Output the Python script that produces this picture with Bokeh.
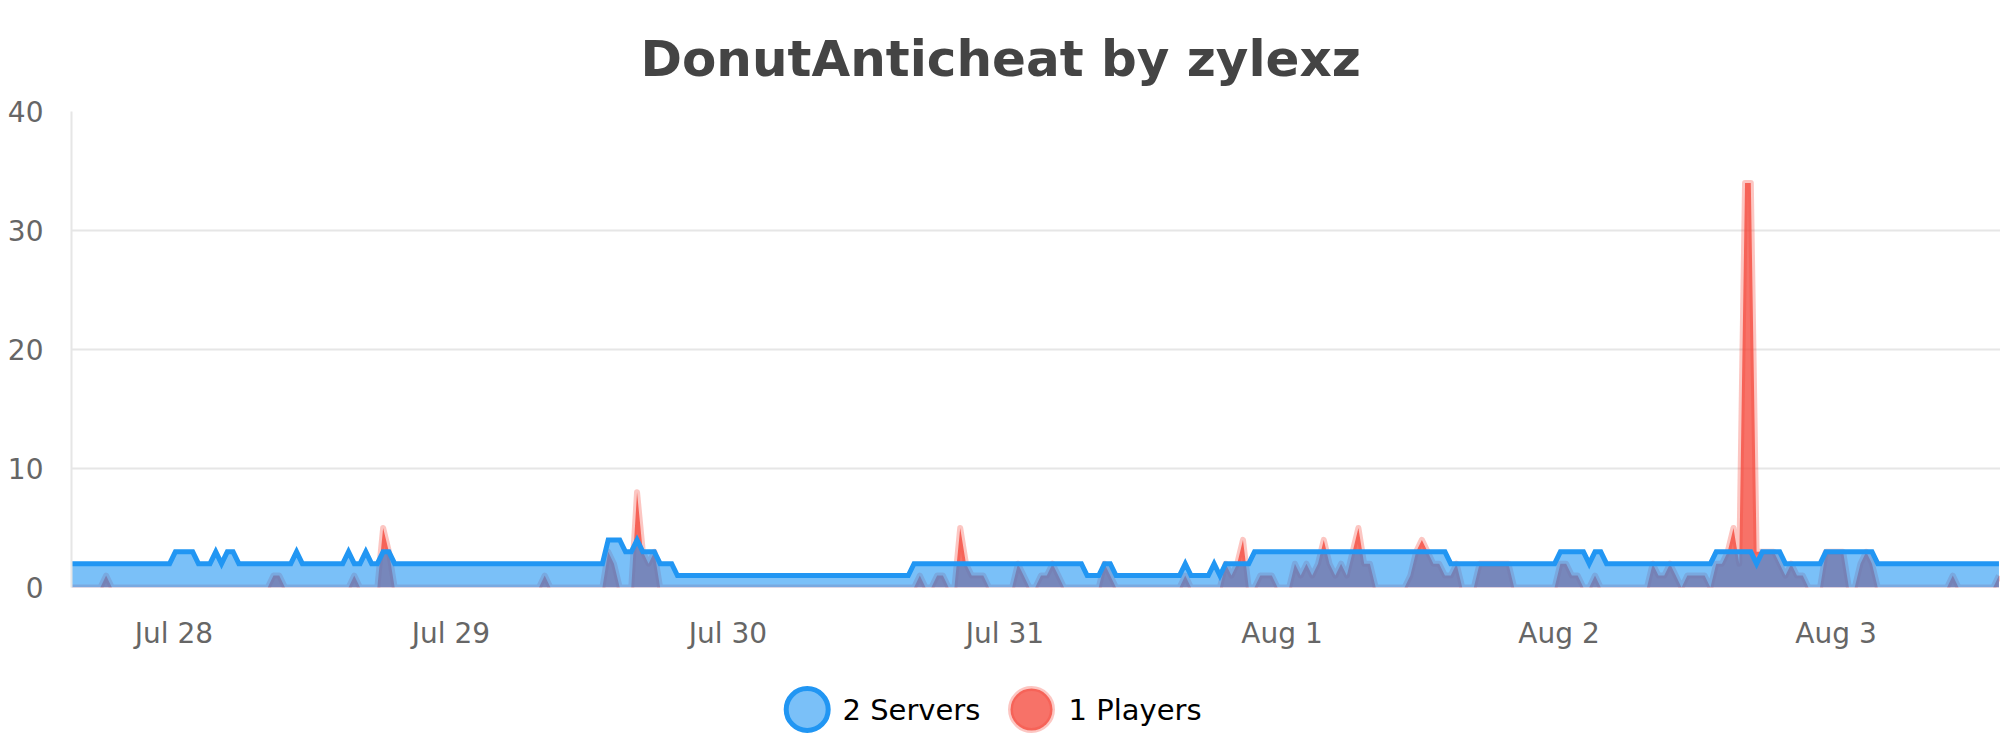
import pandas as pd
from bokeh.plotting import figure
from bokeh.models import ColumnDataSource, DaysTicker, DatetimeTickFormatter, Range1d, FixedTicker
from bokeh.layouts import column
from bokeh.embed import file_html
from bokeh.resources import INLINE
from bokeh.core.properties import value

title_text = "DonutAnticheat by zylexz"
start_time = "2025-07-27 15:07"
step = "30min"

servers = [
    2,2,2,2,2,2,2,2,2,2, 2,2,2,2,2,2,2,2,3,3,
    3,3,2,2,2,3,2,3,3,2, 2,2,2,2,2,2,2,2,2,3,
    2,2,2,2,2,2,2,2,3,2, 2,3,2,2,3,3,2,2,2,2,
    2,2,2,2,2,2,2,2,2,2, 2,2,2,2,2,2,2,2,2,2,
    2,2,2,2,2,2,2,2,2,2, 2,2,2,4,4,4,3,3,4,3,
    3,3,2,2,2,1,1,1,1,1, 1,1,1,1,1,1,1,1,1,1,
    1,1,1,1,1,1,1,1,1,1, 1,1,1,1,1,1,1,1,1,1,
    1,1,1,1,1,1,2,2,2,2, 2,2,2,2,2,2,2,2,2,2,
    2,2,2,2,2,2,2,2,2,2, 2,2,2,2,2,2,1,1,1,2,
    2,1,1,1,1,1,1,1,1,1, 1,1,1,2,1,1,1,1,2,1,
    2,2,2,2,2,3,3,3,3,3, 3,3,3,3,3,3,3,3,3,3,
    3,3,3,3,3,3,3,3,3,3, 3,3,3,3,3,3,3,3,3,2,
    2,2,2,2,2,2,2,2,2,2, 2,2,2,2,2,2,2,2,3,3,
    3,3,3,2,3,3,2,2,2,2, 2,2,2,2,2,2,2,2,2,2,
    2,2,2,2,2,3,3,3,3,3, 3,3,2,3,3,3,3,2,2,2,
    2,2,2,2,3,3,3,3,3,3, 3,3,3,2,2,2,2,2,2,2,
    2,2,2,2,2,2,2,2,2,2, 2,2,2,2,2,
]

players = [
    0,0,0,0,0,0,1,0,0,0, 0,0,0,0,0,0,0,0,0,0,
    0,0,0,0,0,0,0,0,0,0, 0,0,0,0,0,1,1,0,0,0,
    0,0,0,0,0,0,0,0,0,1, 0,0,0,0,5,3,0,0,0,0,
    0,0,0,0,0,0,0,0,0,0, 0,0,0,0,0,0,0,0,0,0,
    0,0,1,0,0,0,0,0,0,0, 0,0,0,3,2,0,0,0,8,3,
    2,3,0,0,0,0,0,0,0,0, 0,0,0,0,0,0,0,0,0,0,
    0,0,0,0,0,0,0,0,0,0, 0,0,0,0,0,0,0,0,0,0,
    0,0,0,0,0,0,0,1,0,0, 1,1,0,0,5,2,1,1,1,0,
    0,0,0,0,2,1,0,0,1,1, 2,1,0,0,0,0,0,0,0,2,
    1,0,0,0,0,0,0,0,0,0, 0,0,0,1,0,0,0,0,0,0,
    2,1,2,4,0,0,1,1,1,0, 0,0,2,1,2,1,2,4,2,1,
    2,1,3,5,2,2,0,0,0,0, 0,0,1,3,4,3,2,2,1,1,
    2,0,0,0,2,2,2,2,2,2, 0,0,0,0,0,0,0,0,2,2,
    1,1,0,0,1,0,0,0,0,0, 0,0,0,0,2,1,1,2,1,0,
    1,1,1,1,0,2,2,3,5,2, 34,34,3,3,3,3,2,1,2,1,
    1,0,0,0,3,3,3,3,0,0, 2,3,2,0,0,0,0,0,0,0,
    0,0,0,0,0,0,1,0,0,0, 0,0,0,0,1,
]

y_ticks = [0, 10, 20, 30, 40]
legend_labels = ["2 Servers", "1 Players"]

n = min(len(servers), len(players))
times = pd.date_range(start_time, periods=n, freq=step)
src = ColumnDataSource(dict(t=times, servers=servers[:n], players=players[:n]))

FRAME_LEFT = 71
PX_PER_DAY = 277
t0 = times[0]
x_end = t0 + pd.Timedelta(days=(2000 - FRAME_LEFT) / PX_PER_DAY)

FONT = "DejaVu Sans"
GRID = "#e6e6e6"
LABEL = "#666666"
BLUE = "#2196F3"
RED = "#F44336"

p = figure(width=2000, height=662, x_axis_type="datetime",
           x_range=Range1d(t0, x_end), y_range=Range1d(0, 40),
           output_backend="svg", toolbar_location=None,
           min_border_left=FRAME_LEFT, min_border_right=0,
           min_border_top=111, min_border_bottom=75,
           title=title_text)

p.title.text_font = FONT
p.title.text_font_size = "50px"
p.title.text_font_style = "bold"
p.title.text_color = "#444444"
p.title.align = "left"
p.title.offset = 569
p.title.standoff = 48

p.outline_line_color = None
p.background_fill_color = "white"
p.border_fill_color = "white"

p.xaxis.ticker = DaysTicker(days=list(range(1, 32)))
p.xaxis.formatter = DatetimeTickFormatter(days="%b %-d", context=None)
p.xaxis.axis_line_color = None
p.xaxis.major_tick_line_color = None
p.xaxis.minor_tick_line_color = None
p.xaxis.major_label_text_font = FONT
p.xaxis.major_label_text_font_size = "28px"
p.xaxis.major_label_text_color = LABEL
p.xaxis.major_label_standoff = 23

p.yaxis.ticker = FixedTicker(ticks=y_ticks)
p.yaxis.axis_line_color = GRID
p.yaxis.axis_line_width = 2
p.yaxis.major_tick_line_color = None
p.yaxis.minor_tick_line_color = None
p.yaxis.major_label_text_font = FONT
p.yaxis.major_label_text_font_size = "28px"
p.yaxis.major_label_text_color = LABEL
p.yaxis.major_label_standoff = 22

p.xgrid.grid_line_color = None
p.ygrid.ticker = FixedTicker(ticks=y_ticks)
p.ygrid.grid_line_color = GRID
p.ygrid.grid_line_width = 2

p.varea(x="t", y1=0, y2="players", source=src, fill_color=RED, fill_alpha=0.75)
p.line(x="t", y="players", source=src, line_color=RED, line_alpha=0.3,
       line_width=6, line_join="round")
p.varea(x="t", y1=0, y2="servers", source=src, fill_color=BLUE, fill_alpha=0.6)
p.line(x="t", y="servers", source=src, line_color=BLUE, line_width=5, line_join="miter")

# legend strip: its frame is aligned with the chart frame, so x is in page pixels
leg = figure(width=2000, height=80, x_range=Range1d(FRAME_LEFT, 2000), y_range=Range1d(0, 80),
             output_backend="svg", toolbar_location=None, min_border=0,
             min_border_left=FRAME_LEFT,
             x_axis_location=None, y_axis_location=None)
leg.grid.visible = False
leg.outline_line_color = None
leg.border_fill_color = "white"
leg.background_fill_color = "white"

marker_x = [806.7, 1031.0]
label_x = [842.0, 1068.0]
row_y = 33
leg.scatter([marker_x[0]], [row_y], size=42, fill_color=BLUE, fill_alpha=0.6,
            line_color=BLUE, line_width=5)
leg.scatter([marker_x[1]], [row_y], size=42, fill_color=RED, fill_alpha=0.75,
            line_color=RED, line_alpha=0.3, line_width=5)
leg.text(x=label_x, y=[row_y, row_y], text=legend_labels, text_font=value(FONT),
         text_font_size="29px", text_baseline="middle", text_align="left",
         text_color="#000000")

layout = column(p, leg)
open("out.html", "w").write(file_html(layout, INLINE))
